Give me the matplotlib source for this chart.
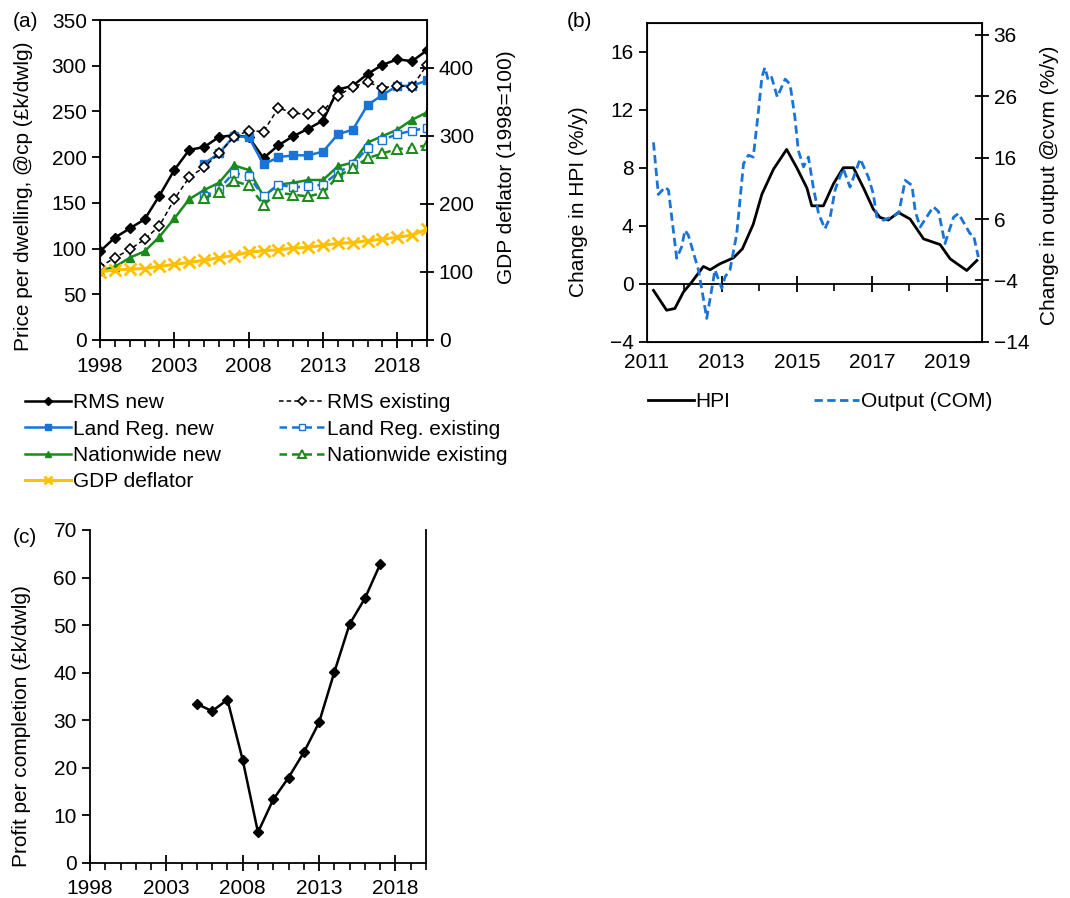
import numpy as np
import matplotlib.pyplot as plt
from matplotlib.ticker import MultipleLocator

plt.rcParams['font.family'] = ['Liberation Sans', 'DejaVu Sans']
plt.rcParams['font.size'] = 15

BLUE = '#1874d6'
GREEN = '#1a8a1a'
GOLD = '#ffc000'

# (a) house prices, £k per dwelling at current prices
years = np.arange(1998, 2021)
years_late = np.arange(2005, 2021)
rms_new = [97, 112, 122, 132, 158, 186, 208, 211, 222, 224, 222, 199, 213,
           223, 231, 240, 274, 278, 291, 301, 307, 305, 317]
rms_existing = [80, 90, 99, 110, 125, 154, 178, 189, 204, 222, 229, 228, 254,
                248, 247, 251, 267, 277, 282, 276, 278, 277, 301]
landreg_new = [193, 204, 223, 222, 192, 200, 202, 202, 206, 225, 230, 257,
               268, 278, 278, 284]
landreg_existing = [157, 165, 183, 179, 157, 170, 167, 168, 170, 183, 192,
                    210, 219, 225, 229, 232]
nationwide_new = [76, 80, 90, 97, 113, 133, 154, 164, 172, 191, 186, 157, 170,
                  172, 175, 175, 190, 194, 216, 223, 230, 241, 249]
nationwide_existing = [155, 162, 174, 169, 148, 161, 159, 157, 161, 179, 188,
                       199, 204, 209, 210, 213]
gdp_deflator = [100, 103, 104, 105, 108, 111, 114, 117, 121, 124, 129, 131,
                132.5, 135, 136, 139, 142, 143, 146, 148, 151, 154, 163]

# (b) annual change in HPI and construction output
hpi_t = [2011.18, 2011.53, 2011.75, 2011.98, 2012.2, 2012.51, 2012.69, 2012.95,
         2013.31, 2013.55, 2013.84, 2014.07, 2014.38, 2014.73, 2015.0, 2015.27,
         2015.4, 2015.71, 2015.98, 2016.24, 2016.51, 2016.78, 2017.04, 2017.22,
         2017.44, 2017.71, 2018.02, 2018.38, 2018.82, 2019.09, 2019.53, 2019.8]
hpi = [-0.46, -1.83, -1.71, -0.57, 0.11, 1.19, 0.96, 1.37,
       1.78, 2.4, 4.1, 6.17, 7.9, 9.26, 8.0, 6.6,
       5.37, 5.37, 6.9, 8.0, 8.0, 6.6, 5.14, 4.57,
       4.39, 4.91, 4.46, 3.09, 2.7, 1.71, 0.91, 1.6]
out_t = [2011.18, 2011.31, 2011.49, 2011.58, 2011.8, 2011.93, 2012.02, 2012.11,
         2012.38, 2012.6, 2012.82, 2013.0, 2013.09, 2013.22, 2013.4, 2013.58,
         2013.71, 2013.84, 2013.98, 2014.07, 2014.15, 2014.24, 2014.33, 2014.48,
         2014.69, 2014.82, 2014.95, 2015.04, 2015.18, 2015.31, 2015.44, 2015.58,
         2015.75, 2015.89, 2016.02, 2016.11, 2016.24, 2016.42, 2016.69, 2016.91,
         2017.04, 2017.13, 2017.31, 2017.55, 2017.72, 2017.89, 2018.07, 2018.16,
         2018.29, 2018.64, 2018.78, 2018.95, 2019.18, 2019.31, 2019.62, 2019.71,
         2019.84]
output_com = [18.5, 10.0, 11.2, 10.7, -0.4, 1.45, 4.17, 3.35,
              -2.3, -10.2, -2.3, -5.3, -3.4, -2.3, 3.6, 15.0,
              16.4, 16.1, 23.7, 29.1, 30.7, 28.6, 29.1, 25.9,
              28.8, 28.0, 22.6, 17.2, 14.5, 16.1, 11.2, 6.9,
              4.4, 6.3, 10.7, 12.3, 14.2, 11.2, 15.8, 12.8,
              10.1, 6.4, 5.8, 6.4, 7.0, 12.3, 11.5, 7.2,
              4.7, 8.0, 7.2, 2.0, 6.3, 6.9, 3.6, 3.4,
              -0.2]

# (c) profit per completion, £k per dwelling
profit_years = np.arange(2005, 2018)
profit = [33.4, 31.9, 34.3, 21.6, 6.4, 13.3, 17.9, 23.2, 29.5, 40.1, 50.2,
          55.6, 62.8]

fig = plt.figure(figsize=(10.7, 8.98), dpi=100)


def year_axis(ax):
    ax.set_xlim(1998, 2020)
    ax.set_xticks([1998, 2003, 2008, 2013, 2018])
    ax.xaxis.set_minor_locator(MultipleLocator(1))
    ax.tick_params(axis='x', which='major', direction='inout', length=12, width=1.3, pad=6)
    ax.tick_params(axis='x', which='minor', direction='out', length=5, width=1.2)
    for s in ax.spines.values():
        s.set_linewidth(1.3)


# ---- (a) ----
ax = fig.add_axes([0.0935, 0.6214, 0.3056, 0.3563])
ax.plot(years, rms_new, '-D', color='black', markersize=5, linewidth=1.8,
        label='RMS new')
ax.plot(years_late, landreg_new, '-s', color=BLUE, markersize=5.5, linewidth=1.8,
        label='Land Reg. new')
ax.plot(years, nationwide_new, '-^', color=GREEN, markersize=5.5, linewidth=1.8,
        label='Nationwide new')
ax.plot(years, rms_existing, '--D', color='black', mfc='white', linewidth=1.1,
        markersize=5, mew=1.2, dashes=(3, 2), label='RMS existing')
ax.plot(years_late, landreg_existing, '--s', color=BLUE, mfc='white', linewidth=1.8,
        markersize=5.5, dashes=(3, 2), label='Land Reg. existing')
ax.plot(years_late, nationwide_existing, '--^', color=GREEN, mfc='white', linewidth=1.8,
        markersize=7.5, mew=1.4, dashes=(3, 2), label='Nationwide existing')
ax.set_ylim(0, 350)
ax.set_yticks(range(0, 351, 50))
ax.tick_params(axis='y', direction='out', length=6, width=1.3)
ax.set_ylabel('Price per dwelling, @cp (£k/dwlg)')
ax.yaxis.set_label_coords(-0.205, 0.45)
year_axis(ax)

ax2 = ax.twinx()
ax2.plot(years, gdp_deflator, '-x', color=GOLD, markersize=8, mew=2,
         linewidth=2.2, label='GDP deflator')
ax2.set_ylim(0, 470)
ax2.set_yticks(range(0, 401, 100))
ax2.tick_params(axis='y', direction='inout', length=10, width=1.3)
ax2.set_ylabel('GDP deflator (1998=100)')
ax2.yaxis.set_label_coords(1.214, 0.54)

h1, l1 = ax.get_legend_handles_labels()
h2, l2 = ax2.get_legend_handles_labels()
order = [0, 1, 2, 6, 3, 4, 5]
handles = (h1 + h2)
labels = (l1 + l2)
fig.legend([handles[i] for i in order], [labels[i] for i in order], ncol=2,
           loc='upper left', bbox_to_anchor=(0.006, 0.583), frameon=False,
           handlelength=2.2, handletextpad=0.08, columnspacing=2.8,
           labelspacing=0.35, markerscale=0.75)
fig.text(0.012, 0.987, '(a)', ha='left', va='top', fontsize=15)

# ---- (b) ----
bx = fig.add_axes([0.6044, 0.6195, 0.3131, 0.3552])
bx.plot(hpi_t, hpi, color='black', linewidth=2, label='HPI')
bx.set_xlim(2011, 2019.93)
bx.set_ylim(-4, 18)
bx.set_yticks(range(-4, 17, 4))
bx.set_xticks([2011, 2013, 2015, 2017, 2019])
bx.tick_params(axis='x', length=0, pad=8)
bx.tick_params(axis='y', direction='out', length=6, width=1.3)
bx.set_ylabel('Change in HPI (%/y)')
bx.yaxis.set_label_coords(-0.175, 0.44)
for s in bx.spines.values():
    s.set_linewidth(1.3)

# x axis crosses at HPI = 0
zero = bx.secondary_xaxis(4 / 22)
zero.set_xticks([2013, 2015, 2017, 2019])
zero.set_xticks([2012, 2014, 2016, 2018], minor=True)
zero.set_xticklabels([])
zero.tick_params(which='major', direction='inout', length=12, width=1.3)
zero.tick_params(which='minor', direction='out', length=5, width=1.2)
zero.spines['bottom'].set_linewidth(1.3)

bx2 = bx.twinx()
bx2.plot(out_t, output_com, color=BLUE, linewidth=2, dashes=(3, 1.6),
         label='Output (COM)')
bx2.set_ylim(-14, 38)
bx2.set_yticks(range(-14, 37, 10))
bx2.tick_params(axis='y', direction='inout', length=10, width=1.3)
bx2.set_ylabel('Change in output @cvm (%/y)')
bx2.yaxis.set_label_coords(1.174, 0.49)

hb = bx.get_legend_handles_labels()[0] + bx2.get_legend_handles_labels()[0]
lb = ['HPI', 'Output (COM)']
fig.legend(hb, lb, ncol=2, loc='upper left', bbox_to_anchor=(0.588, 0.584),
           frameon=False, handlelength=2.2, handletextpad=0.08, columnspacing=4.0)
fig.text(0.53, 0.987, '(b)', ha='left', va='top', fontsize=15)

# ---- (c) ----
cx = fig.add_axes([0.0841, 0.0393, 0.314, 0.3705])
cx.plot(profit_years, profit, '-D', color='black', markersize=5, linewidth=1.8)
cx.set_ylim(0, 70)
cx.set_yticks(range(0, 71, 10))
cx.tick_params(axis='y', direction='out', length=6, width=1.3)
cx.set_ylabel('Profit per completion (£k/dwlg)')
cx.yaxis.set_label_coords(-0.175, 0.41)
year_axis(cx)
cx.spines['top'].set_visible(False)
fig.text(0.012, 0.412, '(c)', ha='left', va='top', fontsize=15)

fig.savefig('out.png', dpi=100)
